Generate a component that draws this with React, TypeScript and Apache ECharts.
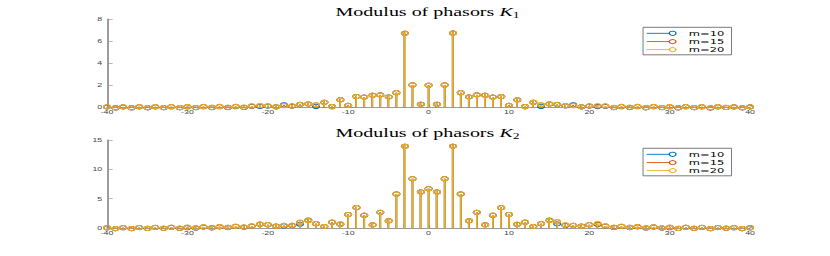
import React, { useEffect, useRef } from 'react';
import * as echarts from 'echarts';

// Harmonic index n = -40..40
const N: number[] = Array.from({ length: 81 }, (_, i) => i - 40);

const SERIES_NAMES = ['m=10', 'm=15', 'm=20'];
const SERIES_COLORS = ['#0072BD', '#D95319', '#EDB120'];

const TITLE_1 = ['Modulus of phasors ', 'K', '1'];
const TITLE_2 = ['Modulus of phasors ', 'K', '2'];

// |K1| for m = 10, 15, 20 (n = -40..40)
const K1_M10 = [
  0.01, 0.01, 0.01, 0.01, 0.01, 0.01, 0.01, 0.02, 0.02, 0.02,
  0.02, 0.02, 0.02, 0.03, 0.03, 0.03, 0.03, 0.04,
  0.06, 0.12, 0.08, 0.10, 0.20, 0.16, 0.22, 0.36, 0.05, 0.50, 0.03, 0.73, 0.15, 1.03, 0.90, 1.15, 1.10, 1.00, 1.30, 6.80, 2.00, 0.33,
  1.97,
  0.33, 2.00, 6.80, 1.30, 1.00, 1.10, 1.15, 0.90, 1.03, 0.15, 0.73, 0.03, 0.50, 0.05, 0.36, 0.22, 0.16, 0.20, 0.10, 0.08, 0.12, 0.06,
  0.04, 0.03, 0.03, 0.03, 0.03, 0.02, 0.02, 0.02,
  0.02, 0.02, 0.02, 0.01, 0.01, 0.01, 0.01, 0.01, 0.01, 0.01,
];
const K1_M15 = [
  0.01, 0.01, 0.01, 0.02, 0.02, 0.02, 0.02, 0.03, 0.03, 0.03,
  0.03, 0.04, 0.04, 0.05, 0.05, 0.05, 0.06, 0.06,
  0.09, 0.18, 0.10, 0.09, 0.14, 0.17, 0.24, 0.36, 0.18, 0.50, 0.04, 0.72, 0.15, 1.03, 0.90, 1.15, 1.10, 1.00, 1.30, 6.80, 2.00, 0.33,
  1.97,
  0.33, 2.00, 6.80, 1.30, 1.00, 1.10, 1.15, 0.90, 1.03, 0.15, 0.72, 0.04, 0.50, 0.18, 0.36, 0.24, 0.17, 0.14, 0.09, 0.10, 0.18, 0.09,
  0.06, 0.06, 0.05, 0.05, 0.05, 0.04, 0.04, 0.03,
  0.03, 0.03, 0.03, 0.02, 0.02, 0.02, 0.02, 0.01, 0.01, 0.01,
];
const K1_M20 = [
  0.02, 0.02, 0.02, 0.02, 0.03, 0.03, 0.03, 0.03, 0.03, 0.04,
  0.04, 0.04, 0.05, 0.05, 0.05, 0.06, 0.06, 0.07,
  0.10, 0.20, 0.10, 0.10, 0.12, 0.18, 0.24, 0.37, 0.20, 0.50, 0.03, 0.73, 0.15, 1.03, 0.90, 1.15, 1.10, 1.00, 1.30, 6.80, 2.00, 0.33,
  1.97,
  0.33, 2.00, 6.80, 1.30, 1.00, 1.10, 1.15, 0.90, 1.03, 0.15, 0.73, 0.03, 0.50, 0.20, 0.37, 0.24, 0.18, 0.12, 0.10, 0.10, 0.20, 0.10,
  0.07, 0.06, 0.06, 0.05, 0.05, 0.05, 0.04, 0.04,
  0.04, 0.03, 0.03, 0.03, 0.03, 0.03, 0.02, 0.02, 0.02, 0.02,
];

// |K2| for m = 10, 15, 20 (n = -40..40)
const K2_M10 = [
  0.03, 0.04, 0.05, 0.05, 0.06, 0.07, 0.08, 0.09, 0.10, 0.11,
  0.12, 0.14, 0.16, 0.18, 0.20, 0.22, 0.25, 0.28,
  0.32, 0.75, 0.55, 0.50, 0.35, 0.55, 0.65, 1.50, 0.72, 0.40, 0.98, 0.75, 2.30, 3.60, 2.15, 0.70, 2.67, 1.36, 5.80, 14.10, 8.40, 6.30,
  6.70,
  6.30, 8.40, 14.10, 5.80, 1.36, 2.67, 0.70, 2.15, 3.60, 2.30, 0.75, 0.98, 0.40, 0.72, 1.50, 0.70, 0.55, 0.45, 0.50, 0.55, 0.75, 0.32,
  0.28, 0.25, 0.22, 0.20, 0.18, 0.16, 0.14, 0.12,
  0.11, 0.10, 0.09, 0.08, 0.07, 0.06, 0.05, 0.05, 0.04, 0.03,
];
const K2_M15 = [
  0.04, 0.05, 0.06, 0.07, 0.08, 0.09, 0.10, 0.11, 0.12, 0.13,
  0.05, 0.16, 0.19, 0.21, 0.24, 0.26, 0.29, 0.32,
  0.34, 0.78, 0.56, 0.45, 0.44, 0.62, 0.98, 1.42, 0.74, 0.40, 1.00, 0.80, 2.30, 3.60, 2.20, 0.70, 2.67, 1.36, 5.80, 14.10, 8.40, 6.30,
  6.70,
  6.30, 8.40, 14.10, 5.80, 1.36, 2.67, 0.70, 2.20, 3.60, 2.30, 0.80, 1.00, 0.40, 0.74, 1.42, 1.05, 0.62, 0.44, 0.45, 0.56, 0.78, 0.34,
  0.32, 0.29, 0.26, 0.24, 0.21, 0.19, 0.16, 0.05,
  0.13, 0.12, 0.11, 0.10, 0.09, 0.08, 0.07, 0.06, 0.05, 0.04,
];
const K2_M20 = [
  0.05, 0.06, 0.07, 0.08, 0.09, 0.10, 0.11, 0.12, 0.13, 0.14,
  0.15, 0.17, 0.20, 0.22, 0.25, 0.27, 0.30, 0.33,
  0.35, 0.80, 0.57, 0.45, 0.45, 0.63, 1.00, 1.43, 0.75, 0.40, 1.00, 0.80, 2.30, 3.60, 2.20, 0.70, 2.67, 1.36, 5.80, 14.10, 8.40, 6.30,
  6.70,
  6.30, 8.40, 14.10, 5.80, 1.36, 2.67, 0.70, 2.20, 3.60, 2.30, 0.80, 1.00, 0.40, 0.75, 1.43, 1.10, 0.63, 0.45, 0.45, 0.57, 0.95, 0.35,
  0.33, 0.30, 0.27, 0.25, 0.22, 0.20, 0.17, 0.15,
  0.14, 0.13, 0.12, 0.11, 0.10, 0.09, 0.08, 0.07, 0.06, 0.05,
];

const Y1_MAX = 8;
const Y1_STEP = 2;
const Y2_MAX = 15;
const Y2_STEP = 5;
const X_MIN = -40;
const X_MAX = 40;
const X_STEP = 10;

// Horizontal stretch of the original figure
const S = 1.6;
const W = 830 / S;
const H = 256;

const AXIS_GRAY = '#9a9a9a';
const LABEL_COLOR = '#444444';
const SANS = "'Liberation Sans', Arial, sans-serif";
const LEGEND_FONT = "'DejaVu Sans', 'Liberation Sans', sans-serif";
const SERIF = "'Liberation Serif', 'Times New Roman', serif";

function stemSeries(name: string, color: string, values: number[], axisIndex: number) {
  return {
    type: 'custom',
    name,
    xAxisIndex: axisIndex,
    yAxisIndex: axisIndex,
    data: N.map((n, i) => [n, values[i]]),
    encode: { x: 0, y: 1 },
    clip: false,
    renderItem: (params: any, api: any) => {
      const x = api.value(0);
      const y = api.value(1);
      const base = api.coord([x, 0]);
      const top = api.coord([x, y]);
      return {
        type: 'group',
        children: [
          {
            type: 'line',
            shape: { x1: base[0], y1: base[1], x2: top[0], y2: top[1] },
            style: { stroke: color, lineWidth: 1 },
          },
          {
            type: 'circle',
            shape: { cx: top[0], cy: top[1], r: 2.1 },
            style: { stroke: color, fill: 'none', lineWidth: 0.9 },
          },
        ],
      };
    },
  };
}

function titleGraphic(parts: string[], y: number) {
  return {
    type: 'text',
    x: 267.2,
    y,
    style: {
      text: `{t|${parts[0]}}{k|${parts[1]}}{s|${parts[2]}}`,
      textAlign: 'center',
      textVerticalAlign: 'middle',
      rich: {
        t: { fontFamily: SERIF, fontSize: 12.5, color: '#000', lineHeight: 15 },
        k: { fontFamily: SERIF, fontSize: 12.5, fontStyle: 'italic', color: '#000', lineHeight: 15 },
        s: { fontFamily: SERIF, fontSize: 8.5, color: '#000', lineHeight: 15, verticalAlign: 'bottom', padding: [5, 0, 0, 0] },
      },
    },
  };
}

function legendGraphic(top: number) {
  const left = 401.9;
  const rows = [6.0, 14.3, 22.3];
  const children: any[] = [
    {
      type: 'rect',
      shape: { x: left, y: top, width: 55.3, height: 27.5 },
      style: { fill: '#ffffff', stroke: '#555555', lineWidth: 0.6 },
    },
  ];
  SERIES_NAMES.forEach((name, i) => {
    const yy = top + rows[i];
    children.push({
      type: 'line',
      shape: { x1: 404.2, y1: yy, x2: 420.4, y2: yy },
      style: { stroke: SERIES_COLORS[i], lineWidth: 0.9 },
    });
    children.push({
      type: 'circle',
      shape: { cx: 420.4, cy: yy, r: 2.1 },
      style: { stroke: SERIES_COLORS[i], fill: '#ffffff', lineWidth: 0.9 },
    });
    children.push({
      type: 'text',
      x: 430.5,
      y: yy,
      style: {
        text: name,
        fontFamily: LEGEND_FONT,
        fontSize: 7.2,
        lineHeight: 7.2,
        fill: '#000',
        textVerticalAlign: 'middle',
      },
    });
  });
  return { type: 'group', children };
}

function xAxisOpt(gridIndex: number) {
  return {
    type: 'value',
    gridIndex,
    min: X_MIN,
    max: X_MAX,
    interval: X_STEP,
    axisLine: { show: true, onZero: false, lineStyle: { color: AXIS_GRAY, width: 1 } },
    axisTick: { show: true, inside: true, length: 2.5, lineStyle: { color: AXIS_GRAY, width: 0.7 } },
    axisLabel: { fontSize: 5.5, color: LABEL_COLOR, fontFamily: SANS, margin: 2.5 },
    splitLine: { show: false },
  };
}

function yAxisOpt(gridIndex: number, max: number, step: number) {
  return {
    type: 'value',
    gridIndex,
    min: 0,
    max,
    interval: step,
    axisLine: { show: true, onZero: false, lineStyle: { color: AXIS_GRAY, width: 1.2 } },
    axisTick: { show: true, inside: true, length: 3.5, lineStyle: { color: AXIS_GRAY, width: 0.7 } },
    axisLabel: { fontSize: 5.5, color: LABEL_COLOR, fontFamily: SANS, margin: 3 },
    splitLine: { show: false },
  };
}

export default function App() {
  const ref = useRef<HTMLDivElement>(null);

  useEffect(() => {
    if (!ref.current) return;
    const chart = echarts.init(ref.current, undefined, { renderer: 'svg' });
    chart.setOption({
      animation: false,
      backgroundColor: '#ffffff',
      grid: [
        { left: 66.9, top: 19, width: 401.9, height: 88 },
        { left: 66.9, top: 140, width: 401.9, height: 88 },
      ],
      xAxis: [xAxisOpt(0), xAxisOpt(1)],
      yAxis: [yAxisOpt(0, Y1_MAX, Y1_STEP), yAxisOpt(1, Y2_MAX, Y2_STEP)],
      series: [
        stemSeries(SERIES_NAMES[0], SERIES_COLORS[0], K1_M10, 0),
        stemSeries(SERIES_NAMES[1], SERIES_COLORS[1], K1_M15, 0),
        stemSeries(SERIES_NAMES[2], SERIES_COLORS[2], K1_M20, 0),
        stemSeries(SERIES_NAMES[0], SERIES_COLORS[0], K2_M10, 1),
        stemSeries(SERIES_NAMES[1], SERIES_COLORS[1], K2_M15, 1),
        stemSeries(SERIES_NAMES[2], SERIES_COLORS[2], K2_M20, 1),
      ],
      graphic: [
        titleGraphic(TITLE_1, 12),
        titleGraphic(TITLE_2, 133),
        legendGraphic(27.3),
        legendGraphic(148.3),
      ],
    });
    return () => chart.dispose();
  }, []);

  return (
    <div
      style={{
        position: 'absolute',
        left: 0,
        top: 0,
        width: W,
        height: H,
        transform: `scaleX(${S})`,
        transformOrigin: '0 0',
        background: '#fff',
      }}
    >
      <div ref={ref} style={{ width: W, height: H }} />
    </div>
  );
}
